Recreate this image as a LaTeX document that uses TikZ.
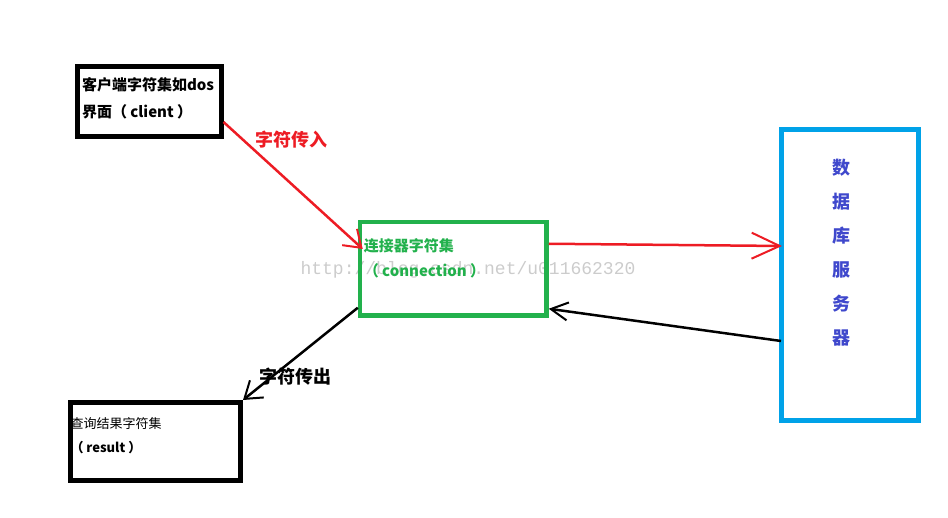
\documentclass[tikz,border=0pt]{standalone}
\usepackage{fontspec}
\setmainfont{Noto Sans CJK SC}
\newfontfamily\marcafont{Liberation Mono}
\usetikzlibrary{arrows.meta, positioning}
\definecolor{rojo}{HTML}{ED1C24}
\definecolor{verde}{HTML}{22B14C}
\definecolor{azul}{HTML}{00A2E8}
\definecolor{indigo}{HTML}{3F48CC}
\tikzstyle{caja} = [draw, rectangle, inner sep=0pt]
\tikzstyle{textocaja} = [inner sep=0pt, outer sep=0pt, align=left]
\tikzstyle{rotulo} = [inner sep=0pt, font=\bfseries\fontsize{18pt}{20pt}\selectfont]
\tikzstyle{marca} = [inner sep=0pt, text=gray!40, font=\marcafont\fontsize{18pt}{18pt}\selectfont]
\tikzstyle{flecha} = [line width=2.5pt, -{Straight Barb[length=16pt,width=22pt,line width=2pt]}]

\begin{document}
\begin{tikzpicture}[x=1pt, y=-1pt]
	\useasboundingbox (0,0) rectangle (948,518);
	\node[marca] (marca) at (468,270) {http://blog.csdn.net/u011662320};
	\node[caja, line width=5pt, minimum width=143.5pt, minimum height=70pt] (cliente) at (149.25,101.5) {};
	\node[textocaja, font=\bfseries\fontsize{15pt}{27pt}\selectfont, below right=13.5pt and 7pt of cliente.north west] (clientetexto) {客户端字符集如dos\\界面（ client ）};
	\node[caja, draw=verde, line width=4.5pt, minimum width=186.5pt, minimum height=93.5pt] (conexion) at (453.25,268.75) {};
	\node[textocaja, text=verde, font=\bfseries\fontsize{15pt}{25pt}\selectfont, below right=18.7pt and 6pt of conexion.north west] (conexiontexto) {连接器字符集\\（ connection ）};
	\node[caja, draw=azul, line width=5pt, minimum width=137pt, minimum height=291pt] (servidor) at (850,275) {};
	\node[textocaja, align=center, text=indigo, font=\bfseries\fontsize{18pt}{34pt}\selectfont] (servidortexto) at ([xshift=-9pt, yshift=22pt]servidor.center) {数\\据\\库\\服\\务\\器};
	\node[caja, line width=5pt, minimum width=170pt, minimum height=78pt] (resultado) at (155.5,441.5) {};
	\node[textocaja, font=\fontsize{13pt}{24pt}\selectfont, below right=17pt and 2.5pt of resultado.north west] (resultadotexto) {查询结果字符集\\\textbf{（ result ）}};
	\node[rotulo, text=rojo] (entrada) at (291,140) {字符传入};
	\node[rotulo] (salida) at (295,377) {字符传出};
	% conectores
	\draw[flecha, rojo] ([yshift=-20.5pt]cliente.east) -- ([xshift=5pt, yshift=19.75pt]conexion.west);
	\draw[flecha, rojo, -{Straight Barb[length=28pt,width=26pt,line width=2pt]}] ([yshift=25pt]conexion.east) -- ([xshift=3pt, yshift=29pt]servidor.west);
	\draw[flecha, -{Straight Barb[length=17pt,width=18pt,line width=2pt]}] ([xshift=2pt, yshift=-66pt]servidor.west) -- ([yshift=-40pt]conexion.east);
	\draw[flecha] ([yshift=-39pt]conexion.west) -- (resultado.north east);
\end{tikzpicture}
\end{document}
